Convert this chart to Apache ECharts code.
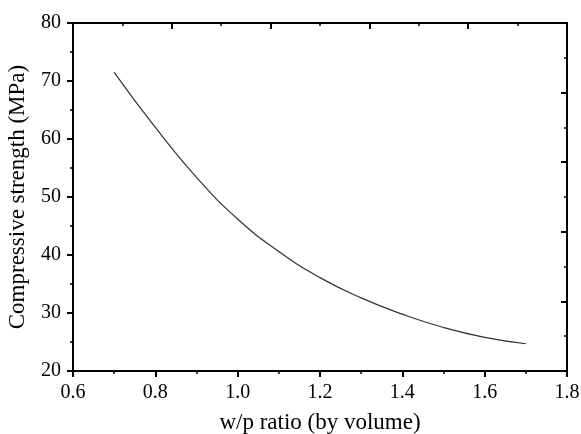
<!DOCTYPE html>
<html>
<head>
<meta charset="utf-8">
<script src="https://cdn.jsdelivr.net/npm/echarts@6/dist/echarts.min.js"></script>
<style>
html,body{margin:0;padding:0;background:#fff;}
#chart{width:581px;height:434px;}
</style>
</head>
<body>
<div id="chart"></div>
<script>
const wpRatio = [0.7, 0.8, 0.9, 1.0, 1.1, 1.2, 1.3, 1.4, 1.5, 1.6, 1.7];
const strength = [71.5, 62.0, 53.4, 46.2, 40.6, 36.1, 32.6, 29.8, 27.5, 25.8, 24.7];
const xTitle = 'w/p ratio (by volume)';
const yTitle = 'Compressive strength (MPa)';

const FONT = '"Liberation Serif", "DejaVu Serif", serif';
const lineStyle = { color: '#000', width: 2 };

const chart = echarts.init(document.getElementById('chart'), null, { renderer: 'canvas' });
chart.setOption({
  animation: false,
  backgroundColor: '#fff',
  grid: { left: 73, right: 14, top: 23, bottom: 63, containLabel: false, outerBoundsMode: 'none' },
  xAxis: [
    {
      type: 'value', position: 'bottom', min: 0.6, max: 1.8, interval: 0.2,
      name: xTitle, nameLocation: 'middle', nameGap: 40,
      nameTextStyle: { fontFamily: FONT, fontSize: 23, color: '#000' },
      axisLine: { show: true, onZero: false, lineStyle },
      axisTick: { show: true, inside: false, length: 6, lineStyle },
      minorTick: { show: true, splitNumber: 2, length: 3, lineStyle: { color: '#000', width: 1.5 } },
      splitLine: { show: false },
      axisLabel: { fontFamily: FONT, fontSize: 20, color: '#000', margin: 12,
        formatter: v => v.toFixed(1) }
    },
    {
      type: 'value', position: 'top', min: 0, max: 10, interval: 2,
      axisLine: { show: true, onZero: false, lineStyle },
      axisTick: { show: true, inside: true, length: 6, lineStyle },
      minorTick: { show: true, splitNumber: 2, length: 3, lineStyle: { color: '#000', width: 1.5 } },
      splitLine: { show: false },
      axisLabel: { show: false }
    }
  ],
  yAxis: [
    {
      type: 'value', position: 'left', min: 20, max: 80, interval: 10,
      name: yTitle, nameLocation: 'middle', nameGap: 44, nameRotate: 90,
      nameTextStyle: { fontFamily: FONT, fontSize: 23, color: '#000' },
      axisLine: { show: true, onZero: false, lineStyle },
      axisTick: { show: true, inside: false, length: 6, lineStyle },
      minorTick: { show: true, splitNumber: 2, length: 3, lineStyle: { color: '#000', width: 1.5 } },
      splitLine: { show: false },
      axisLabel: { fontFamily: FONT, fontSize: 20, color: '#000', margin: 12 }
    },
    {
      type: 'value', position: 'right', min: 0, max: 10, interval: 2,
      axisLine: { show: true, onZero: false, lineStyle },
      axisTick: { show: true, inside: true, length: 6, lineStyle },
      minorTick: { show: true, splitNumber: 2, length: 3, lineStyle: { color: '#000', width: 1.5 } },
      splitLine: { show: false },
      axisLabel: { show: false }
    }
  ],
  series: [
    {
      type: 'line', xAxisIndex: 0, yAxisIndex: 0,
      data: wpRatio.map((x, i) => [x, strength[i]]),
      smooth: 0.5, showSymbol: false, symbol: 'none',
      lineStyle: { color: '#333', width: 1.2 }
    }
  ]
});
</script>
</body>
</html>
